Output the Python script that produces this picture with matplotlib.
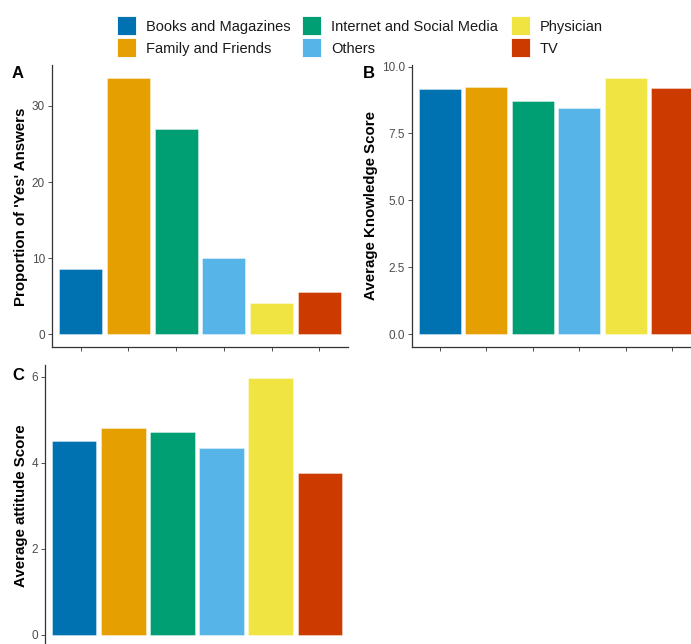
import matplotlib
matplotlib.use("Agg")
import matplotlib.pyplot as plt
from matplotlib.patches import Rectangle

plt.rcParams['font.family'] = ['Liberation Sans', 'DejaVu Sans']

sources = ["Books and Magazines", "Family and Friends", "Internet and Social Media",
           "Others", "Physician", "TV"]
colors = ["#0072B2", "#E69F00", "#009E73", "#56B4E9", "#F0E442", "#CC3A00"]

yes_share = [8.6, 33.7, 27.0, 10.0, 4.1, 5.5]
knowledge = [9.18, 9.22, 8.72, 8.45, 9.58, 9.21]
attitude = [4.50, 4.81, 4.71, 4.34, 5.97, 3.75]

W, H = 691, 644
fig = plt.figure(figsize=(W / 100, H / 100), dpi=100)


def px_axes(left, right, top, bottom):
    return fig.add_axes([left / W, 1 - bottom / H, (right - left) / W, (bottom - top) / H])


def draw_panel(ax, values, ticks, ticklabels, ylabel, label_xy):
    x = range(1, len(values) + 1)
    ax.bar(x, values, width=0.9, color=colors, edgecolor=(1, 1, 1, 0.45), linewidth=0.6)
    vmax = max(values)
    pad = vmax * 0.05
    ax.set_ylim(-pad, vmax + pad)
    ax.set_xlim(0.4, len(values) + 0.6)
    ax.set_xticks(list(x))
    ax.set_xticklabels([])
    ax.set_yticks(ticks)
    ax.set_yticklabels(ticklabels, fontsize=8.5)
    for s in ("top", "right"):
        ax.spines[s].set_visible(False)
    for s in ("left", "bottom"):
        ax.spines[s].set_color("#333333")
        ax.spines[s].set_linewidth(0.9)
    ax.tick_params(axis="both", direction="out", length=3, width=0.6, colors="#333333",
                   labelcolor="#4D4D4D", pad=2)
    ax.set_ylabel(ylabel, fontsize=10.8, fontweight="bold", color="black",
                  va="center", ha="center")
    ax.yaxis.set_label_coords(label_xy[0] / W, 1 - label_xy[1] / H,
                              transform=fig.transFigure)


axA = px_axes(52, 348, 65, 347)
draw_panel(axA, yes_share, [0, 10, 20, 30], ["0", "10", "20", "30"],
           "Proportion of 'Yes' Answers", (21, 207))

axB = px_axes(412, 700, 65, 347)
draw_panel(axB, knowledge, [0, 2.5, 5, 7.5, 10], ["0.0", "2.5", "5.0", "7.5", "10.0"],
           "Average Knowledge Score", (371, 206))

axC = px_axes(45, 349, 365, 647.5)
draw_panel(axC, attitude, [0, 2, 4, 6], ["0", "2", "4", "6"],
           "Average attitude Score", (21, 506))

# panel tags
for tag, (tx, ty) in zip("ABC", [(18, 74), (369, 74), (18, 375)]):
    fig.text(tx / W, 1 - ty / H, tag, fontsize=12, fontweight="bold",
             ha="center", va="center")

# legend laid out in three columns of two rows
key_x = [117, 117, 302, 302, 511, 511]
row_y = [16, 38, 16, 38, 16, 38]
key = 19
for name, col, kx, ky in zip(sources, colors, key_x, row_y):
    fig.add_artist(Rectangle((kx / W, 1 - (ky + key) / H), key / W, key / H,
                             transform=fig.transFigure, facecolor=col,
                             edgecolor="white", linewidth=0.6))
    fig.text((kx + 29) / W, 1 - (ky + key / 2 + 1.5) / H, name, fontsize=10.5,
             ha="left", va="center", color="#1A1A1A")

fig.savefig("out.png", dpi=100)
